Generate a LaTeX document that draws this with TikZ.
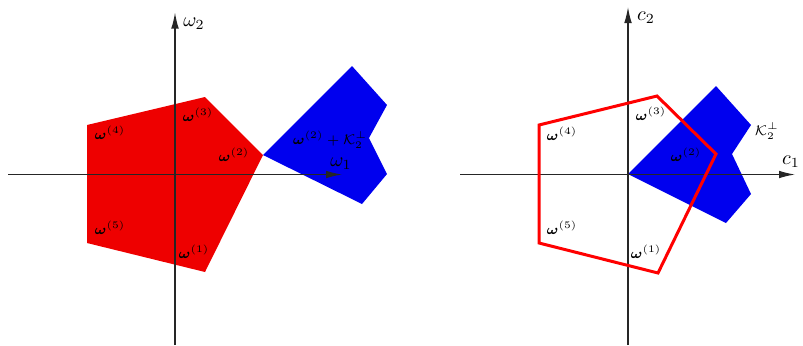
\documentclass[tikz,border=0pt]{standalone}
\usepackage{amsmath,amssymb,bm}
\usetikzlibrary{arrows.meta}
\definecolor{fillred}{RGB}{238,0,0}
\definecolor{fillblue}{RGB}{0,0,238}
\tikzset{
  axis/.style={line width=0.6pt, draw=black!85, -{Latex[length=8pt,width=3.8pt]}},
  lab/.style={inner sep=0pt, font=\scriptsize},
  axlab/.style={inner sep=0pt},
  redfill/.style={fill=fillred, draw=none},
  bluefill/.style={fill=fillblue, draw=none},
  redline/.style={draw=red, line width=1.5pt, line join=miter},
}
\begin{document}
\begin{tikzpicture}[x=0.5pt,y=-0.5pt]
\useasboundingbox (0,0) rectangle (803,345);
% ---------- left panel ----------
\fill[redfill] (87,125) -- (205,97) -- (263,155) -- (205,272) -- (87,243) -- cycle;
\fill[bluefill] (263,155) -- (352,66) -- (387,105) -- (369,138) -- (387,174) -- (362,204) -- cycle;
\coordinate (Lxs) at (8,174.5);
\coordinate (Lxe) at (342,174.5);
\coordinate (Lys) at (175,345);
\coordinate (Lye) at (175,12.5);
\draw[axis] (Lxs) -- (Lxe);
\draw[axis] (Lys) -- (Lye);
\node[axlab] (Lw2) at (194,24) {$\omega_2$};
\node[axlab] (Lw1) at (341,164) {$\omega_1$};
\node[lab] (La4) at (110,133) {$\bm{\omega}^{(4)}$};
\node[lab] (La3) at (198,115) {$\bm{\omega}^{(3)}$};
\node[lab] (La2) at (234,155) {$\bm{\omega}^{(2)}$};
\node[lab] (La5) at (110,228) {$\bm{\omega}^{(5)}$};
\node[lab] (La1) at (194,252) {$\bm{\omega}^{(1)}$};
\node[lab] (LK) at (330,140) {$\bm{\omega}^{(2)}+\mathcal{K}_2^{\perp}$};
% ---------- right panel ----------
\fill[bluefill] (628,174) -- (716,86) -- (751,125) -- (732,154) -- (751,194) -- (726,223) -- cycle;
\coordinate (Rxs) at (460,174.5);
\coordinate (Rxe) at (795,174.5);
\coordinate (Rys) at (628,345);
\coordinate (Rye) at (628,7);
\draw[axis] (Rxs) -- (Rxe);
\draw[axis] (Rys) -- (Rye);
\draw[redline] (539,125) -- (657,96) -- (716,154) -- (658,273) -- (539,243) -- cycle;
\node[axlab] (Rc2) at (646,18) {$c_2$};
\node[axlab] (Rc1) at (791,162) {$c_1$};
\node[lab] (RK) at (767,131) {$\mathcal{K}_2^{\perp}$};
\node[lab] (Ra3) at (651,114) {$\bm{\omega}^{(3)}$};
\node[lab] (Ra4) at (562,134) {$\bm{\omega}^{(4)}$};
\node[lab] (Ra2) at (686,155) {$\bm{\omega}^{(2)}$};
\node[lab] (Ra5) at (562,228) {$\bm{\omega}^{(5)}$};
\node[lab] (Ra1) at (646,252) {$\bm{\omega}^{(1)}$};
\end{tikzpicture}
\end{document}
